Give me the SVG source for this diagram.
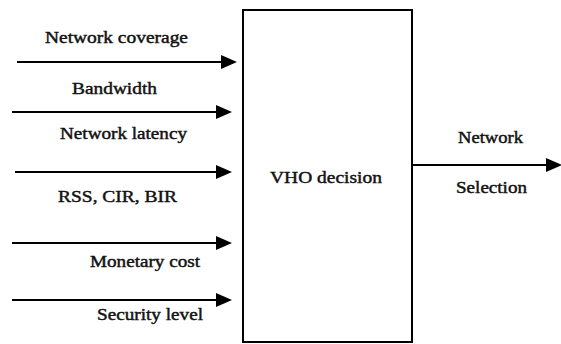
<svg xmlns="http://www.w3.org/2000/svg" width="561" height="344" viewBox="0 0 561 344">
<style>
.t{font-family:"Liberation Serif","Times New Roman",serif;font-size:17px;fill:#111;stroke:#111;stroke-width:0.45;text-anchor:middle}
.c{stroke:#000;stroke-width:2;fill:none}
</style>
<defs>
<marker id="ah" markerUnits="userSpaceOnUse" markerWidth="16" markerHeight="14" refX="0" refY="7" orient="auto">
<path d="M0,0 L16,7 L0,14 z" fill="#000"/>
</marker>
</defs>
<rect width="561" height="344" fill="#fff"/>
<g id="connectors">
<line class="c" x1="17" y1="62" x2="221" y2="62" marker-end="url(#ah)"/>
<line class="c" x1="12" y1="112" x2="216" y2="112" marker-end="url(#ah)"/>
<line class="c" x1="15" y1="172" x2="216" y2="172" marker-end="url(#ah)"/>
<line class="c" x1="12" y1="243" x2="216" y2="243" marker-end="url(#ah)"/>
<line class="c" x1="12" y1="300" x2="216" y2="300" marker-end="url(#ah)"/>
<line class="c" x1="413" y1="165" x2="546" y2="165" marker-end="url(#ah)"/>
</g>
<g id="labels">
<text class="t" x="116.5" y="43" textLength="143" lengthAdjust="spacingAndGlyphs">Network coverage</text>
<text class="t" x="114.5" y="94" textLength="85" lengthAdjust="spacingAndGlyphs">Bandwidth</text>
<text class="t" x="123.5" y="139" textLength="127" lengthAdjust="spacingAndGlyphs">Network latency</text>
<text class="t" x="117.5" y="202" textLength="119" lengthAdjust="spacingAndGlyphs">RSS, CIR, BIR</text>
<text class="t" x="145" y="267" textLength="110" lengthAdjust="spacingAndGlyphs">Monetary cost</text>
<text class="t" x="150" y="320" textLength="106" lengthAdjust="spacingAndGlyphs">Security level</text>
</g>
<g id="vho">
<rect class="c" x="243" y="10" width="169" height="332"/>
<text class="t" x="326" y="183" textLength="112" lengthAdjust="spacingAndGlyphs">VHO decision</text>
</g>
<g id="output">
<text class="t" x="490.5" y="143" textLength="65" lengthAdjust="spacingAndGlyphs">Network</text>
<text class="t" x="491.5" y="193" textLength="71" lengthAdjust="spacingAndGlyphs">Selection</text>
</g>
</svg>
